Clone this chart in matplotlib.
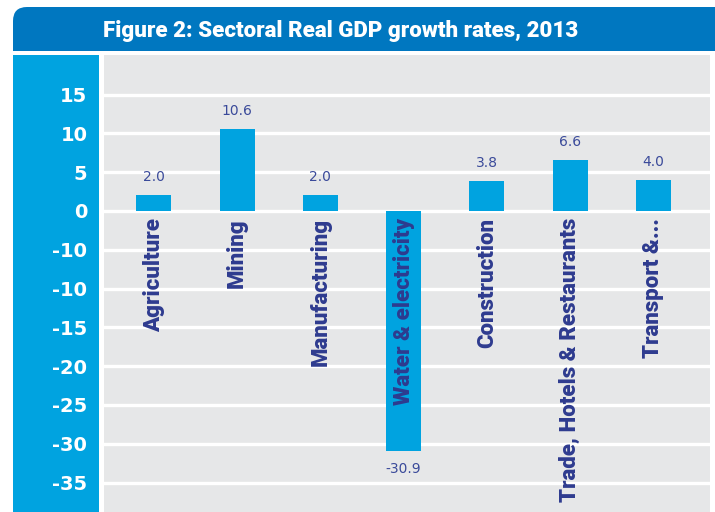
#!/usr/bin/env python3
"""Sectoral real GDP growth rates, 2013 - bar chart with a boxed title bar."""

import matplotlib
matplotlib.use("Agg")
import matplotlib.pyplot as plt
from matplotlib.patches import FancyBboxPatch, Rectangle

sectors = ["Agriculture", "Mining", "Manufacturing", "Water & electricity",
           "Construction", "Trade, Hotels & Restaurants", "Transport &..."]
growth = [2.0, 10.6, 2.0, -30.9, 3.8, 6.6, 4.0]

tick_values = [15, 10, 5, 0, -5, -10, -15, -20, -25, -30, -35]
tick_labels = ["15", "10", "5", "0", "-10", "-10", "-15", "-20", "-25", "-30", "-35"]

DARK_BLUE = "#0077C0"
LIGHT_BLUE = "#00A3E0"
NAVY = "#2E3B8F"
GREY = "#E6E7E8"

W, H = 715, 512
fig = plt.figure(figsize=(W / 100, H / 100), dpi=100)
fig.patch.set_facecolor("white")

# pixel-space backdrop for the title bar and the blue strip
bg = fig.add_axes([0, 0, 1, 1], zorder=0)
bg.set_xlim(0, W)
bg.set_ylim(H, 0)
bg.axis("off")
bg.add_patch(FancyBboxPatch((13, 7), 730, 44, boxstyle="round,pad=0,rounding_size=14",
                            fc=DARK_BLUE, ec="none"))
bg.add_patch(Rectangle((13, 30), 730, 21, fc=DARK_BLUE, ec="none"))
bg.add_patch(Rectangle((13, 55), 86, 470, fc=LIGHT_BLUE, ec="none"))
bg.text(103, 31, "Figure 2: Sectoral Real GDP growth rates, 2013", color="white",
        fontsize=16, fontweight="heavy", family="Roboto", ha="left", va="center")

ax = fig.add_axes([104 / W, 0, 606 / W, 457 / H], zorder=1)
ax.set_facecolor(GREY)
for s in ax.spines.values():
    s.set_visible(False)

x = list(range(len(sectors)))
ax.bar(x, growth, width=0.42, color=LIGHT_BLUE, zorder=3)
ax.set_xlim(-0.6, 6.68)
ax.set_ylim(-38.8, 20.1)

ax.set_yticks(tick_values)
ax.set_yticklabels(tick_labels)
ax.tick_params(axis="y", length=0, pad=12, labelcolor="white", labelsize=14)
for t in ax.get_yticklabels():
    t.set_fontweight("bold")
    t.set_family("DejaVu Sans")
ax.set_xticks([])
ax.yaxis.grid(True, color="white", linewidth=2.4, zorder=1)
ax.set_axisbelow(True)

for xi, name, val in zip(x, sectors, growth):
    ax.text(xi, -0.9, name, rotation=90, ha="center", va="top", color=NAVY,
            fontsize=16, fontweight="heavy", family="Roboto", zorder=4)
    off = 8 if val >= 0 else -8
    ax.annotate(f"{val:.1f}", (xi, val), xytext=(0, off), textcoords="offset points",
                ha="center", va="bottom" if val >= 0 else "top",
                color="#3A4A9A", fontsize=10, family="DejaVu Sans", zorder=4)

fig.savefig("out.png", dpi=100)
